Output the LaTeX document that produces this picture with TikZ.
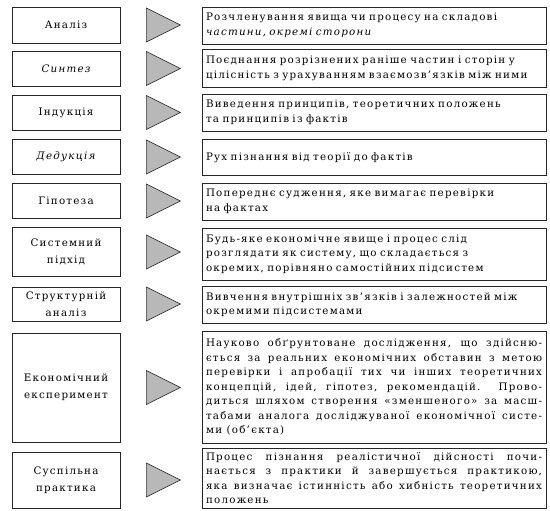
\documentclass[tikz,border=0pt]{standalone}
\usepackage{fontspec}
\setmainfont{DejaVu Serif}[LetterSpace=12]
\tikzset{
  method/.style={draw=black!85, line width=0.8pt, minimum width=108pt, align=center,
    inner sep=2pt, font=\fontsize{10.3}{17}\selectfont},
  note/.style={draw=black!85, line width=0.8pt, minimum width=344pt, text width=336pt,
    inner xsep=4pt, inner ysep=2pt, align=left, font=\fontsize{10.3}{14.5}\selectfont},
  pointer/.style={draw=black!80, line width=0.6pt, fill=black!28, line join=miter}
}
\begin{document}
\begin{tikzpicture}[x=1pt, y=-1pt]
    \useasboundingbox (0,0) rectangle (550,511);
    % methods
    \node[method, minimum height=36pt] (l1) at (66,25) {Аналіз};
    \node[method, minimum height=35pt] (l2) at (66,68.5) {\itshape Синтез};
    \node[method, minimum height=35pt] (l3) at (66,112.5) {Індукція};
    \node[method, minimum height=35pt] (l4) at (66,157) {\itshape Дедукція};
    \node[method, minimum height=35pt] (l5) at (66,201) {Гіпотеза};
    \node[method, minimum height=49pt] (l6) at (66,252) {Системний\\підхід};
    \node[method, minimum height=34pt] (l7) at (66,304) {Структурній\\аналіз};
    \node[method, minimum height=109pt] (l8) at (66,387.5) {Економічний\\експеримент};
    \node[method, minimum height=56pt] (l9) at (66,480) {Суспільна\\практика};
    % descriptions
    \node[note, minimum height=37pt] (r1) at (374,25.5) {Розчленування явища чи процесу на складові\\\textit{частини, окремі сторони}};
    \node[note, minimum height=38pt] (r2) at (374,68.5) {Поєднання розрізнених раніше частин і сторін у\\цілісність з урахуванням взаємозв’язків між ними};
    \node[note, minimum height=37pt] (r3) at (374,112.5) {Виведення принципів, теоретичних положень\\та принципів із фактів};
    \node[note, minimum height=36pt] (r4) at (374,157.5) {Рух пізнання від теорії до фактів};
    \node[note, minimum height=37pt] (r5) at (374,201.5) {Попереднє судження, яке вимагає перевірки\\на фактах};
    \node[note, minimum height=52pt] (r6) at (374,254) {Будь-яке економічне явище і процес слід\\розглядати як систему, що складається з\\окремих, порівняно самостійних підсистем};
    \node[note, minimum height=37pt] (r7) at (374,304.5) {Вивчення внутрішніх зв’язків і залежностей між\\окремими підсистемами};
    \node[note, minimum height=112pt, align=justify] (r8) at (374,387) {Науково обґрунтоване дослідження, що здійсню-\linebreak ється за реальних економічних обставин з метою\linebreak перевірки і апробації тих чи інших теоретичних\linebreak концепцій, ідей, гіпотез, рекомендацій. Прово-\linebreak диться шляхом створення «зменшеного» за масш-\linebreak табами аналога досліджуваної економічної систе-\linebreak ми (об’єкта)};
    \node[note, minimum height=60pt, align=justify] (r9) at (374,478) {Процес пізнання реалістичної дійсності почи-\linebreak нається з практики й завершується практикою,\linebreak яка визначає істинність або хибність теоретичних\linebreak положень};
    % arrows between the columns
    \foreach \n in {1,...,9}
        \draw[pointer] ([xshift=26pt,yshift=17pt]l\n.east) -- ([xshift=60pt]l\n.east)
            -- ([xshift=26pt,yshift=-17pt]l\n.east) -- cycle;
\end{tikzpicture}
\end{document}
